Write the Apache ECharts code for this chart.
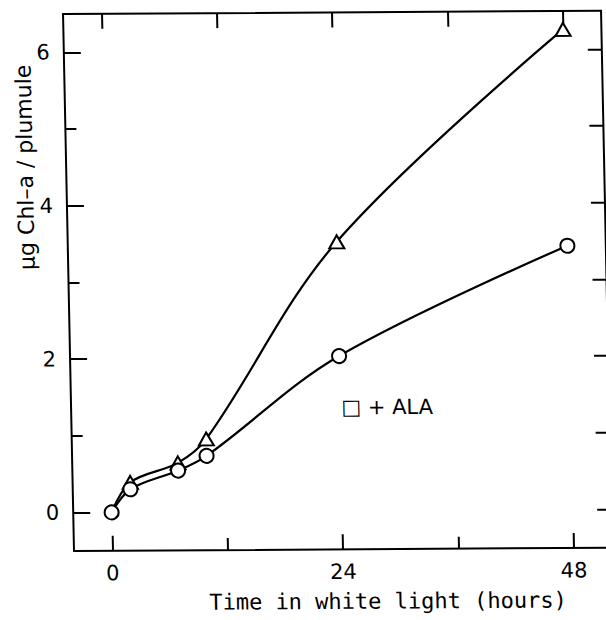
<!DOCTYPE html>
<html><head><meta charset="utf-8">
<script src="https://cdn.jsdelivr.net/npm/echarts@6/dist/echarts.min.js"></script>
<style>
html,body{margin:0;padding:0;background:#fff;overflow:hidden;width:606px;height:620px;}
#chart{position:absolute;left:0;top:0;width:640px;height:620px;transform-origin:75px 551px;transform:rotate(-0.35deg) skewX(0.82deg);}
</style></head><body><div id="chart"></div>
<script>
// Data
const hours = [0, 2, 7, 10, 24, 48];
const circleValues = [0, 0.30, 0.54, 0.73, 2.02, 3.44];
const triangleValues = [0, 0.39, 0.64, 0.95, 3.51, 6.26];
const xTickLabels = [0, 24, 48];
const xMinorTicks = [12, 36];
const xTopTicks = [0, 12, 24, 36, 48];
const yTickLabels = [0, 2, 4, 6];
const yMinorTicks = [1, 3, 5];
const yRightTicks = [0, 1, 2, 3, 4, 5, 6];
const xTitle = 'Time in white light (hours)';
const yTitle = 'μg Chl–a / plumule';
const annotation = '□ + ALA';

const X_MIN = -4, X_MAX = 52, Y_MIN = -0.5, Y_MAX = 6.5;
const ink = '#000';
const labelFont = { color: ink, fontFamily: 'DejaVu Sans', fontSize: 21 };

function xAxisDef(opts) {
  return Object.assign({
    type: 'value', min: X_MIN, max: X_MAX, splitLine: { show: false },
    axisLine: { show: false, onZero: false, lineStyle: { color: ink, width: 2 } },
    axisLabel: { show: false }, axisTick: { show: false }
  }, opts);
}
function yAxisDef(opts) {
  return Object.assign({
    type: 'value', min: Y_MIN, max: Y_MAX, splitLine: { show: false },
    axisLine: { show: false, onZero: false, lineStyle: { color: ink, width: 2 } },
    axisLabel: { show: false }, axisTick: { show: false }
  }, opts);
}

const circleData = hours.map((h, i) => [h, circleValues[i]]);
const triangleData = hours.map((h, i) => i === 0 ? { value: [h, triangleValues[i]], symbol: 'none' } : [h, triangleValues[i]]);

const chart = echarts.init(document.getElementById('chart'), null, { renderer: 'svg' });
chart.setOption({
  animation: false,
  backgroundColor: '#fff',
  grid: { left: 74, top: 14, width: 538, height: 537, containLabel: false },
  xAxis: [
    xAxisDef({ position: 'bottom',
      axisLine: { show: true, onZero: false, lineStyle: { color: ink, width: 2 } },
      axisTick: { show: true, inside: true, length: 15, lineStyle: { color: ink, width: 2 }, customValues: xTickLabels },
      axisLabel: Object.assign({ show: true, margin: 12, customValues: xTickLabels }, labelFont) }),
    xAxisDef({ position: 'bottom',
      axisTick: { show: true, inside: true, length: 12, lineStyle: { color: ink, width: 2 }, customValues: xMinorTicks } }),
    xAxisDef({ position: 'top',
      axisLine: { show: true, onZero: false, lineStyle: { color: ink, width: 2 } },
      axisTick: { show: true, inside: true, length: 15, lineStyle: { color: ink, width: 2 }, customValues: xTopTicks } })
  ],
  yAxis: [
    yAxisDef({ position: 'left',
      axisLine: { show: true, onZero: false, lineStyle: { color: ink, width: 2 } },
      axisTick: { show: true, inside: true, length: 17, lineStyle: { color: ink, width: 2 }, customValues: yTickLabels },
      axisLabel: Object.assign({ show: true, margin: 14, customValues: yTickLabels }, labelFont) }),
    yAxisDef({ position: 'left',
      axisTick: { show: true, inside: true, length: 11, lineStyle: { color: ink, width: 2 }, customValues: yMinorTicks } }),
    yAxisDef({ position: 'right',
      axisLine: { show: true, onZero: false, lineStyle: { color: ink, width: 2 } },
      axisTick: { show: true, inside: true, length: 14, lineStyle: { color: ink, width: 2 }, customValues: yRightTicks } })
  ],
  graphic: [
    { type: 'text', x: 33, y: 167, rotation: Math.PI / 2,
      style: { text: yTitle, fill: ink, font: '22px "DejaVu Sans"', textAlign: 'center', textVerticalAlign: 'middle' } },
    { type: 'text', x: 387, y: 603,
      style: { text: xTitle, fill: ink, font: '22px "DejaVu Sans Mono"', textAlign: 'center', textVerticalAlign: 'middle' } },
    { type: 'text', x: 390, y: 409,
      style: { text: annotation, fill: ink, font: '21px "DejaVu Sans"', textAlign: 'center', textVerticalAlign: 'middle' } }
  ],
  series: [
    { name: 'control', type: 'line', xAxisIndex: 0, yAxisIndex: 0, data: triangleData, smooth: 0.35,
      symbol: 'triangle', symbolSize: [15, 13], showAllSymbol: true,
      lineStyle: { color: ink, width: 2.2 }, itemStyle: { color: '#fff', borderColor: ink, borderWidth: 2 } },
    { name: '+ALA', type: 'line', xAxisIndex: 0, yAxisIndex: 0, data: circleData, smooth: 0.35,
      symbol: 'circle', symbolSize: 14, showAllSymbol: true,
      lineStyle: { color: ink, width: 2.2 }, itemStyle: { color: '#fff', borderColor: ink, borderWidth: 2 } }
  ]
});
</script></body></html>
